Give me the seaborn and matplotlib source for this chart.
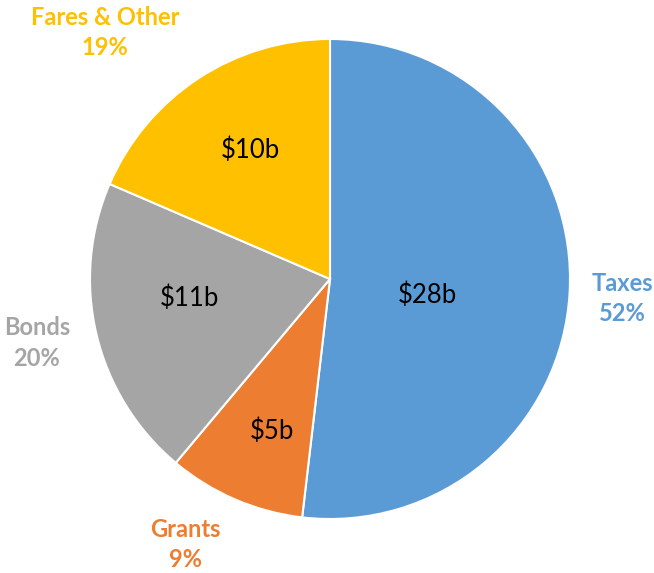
import numpy as np
import matplotlib.pyplot as plt
import seaborn as sns

# data (billions of dollars)
sources = ['Taxes', 'Grants', 'Bonds', 'Fares & Other']
amounts = [28, 5, 11, 10]
pct_labels = ['52%', '9%', '20%', '19%']
colors = ['#5B9BD5', '#ED7D31', '#A5A5A5', '#FFC000']

# label layout: (radius, angle shift in degrees) relative to wedge middle
inner_layout = [(0.41, -6), (0.68, 2.5), (0.59, -5.6), (0.63, -1.5)]
outer_layout = [(1.22, -0.5), (1.26, -5.2), (1.25, -1), (1.39, 9)]

sns.set_style('white')
plt.rcParams['font.family'] = ['Lato', 'DejaVu Sans']

fig = plt.figure(figsize=(6.54, 5.73), dpi=100)
# square axes so the pie centre sits at (330, 279) px with radius 240 px
ax = fig.add_axes([90 / 654, 54 / 573, 480 / 654, 480 / 573])

wedges, _ = ax.pie(
    amounts,
    colors=colors,
    startangle=90,
    counterclock=False,
    radius=1,
    wedgeprops=dict(edgecolor='white', linewidth=1.5),
)

for w, amt, name, pct, col, (ri, ai), (ro, ao) in zip(
        wedges, amounts, sources, pct_labels, colors, inner_layout, outer_layout):
    mid = (w.theta1 + w.theta2) / 2
    a = np.deg2rad(mid + ai)
    ax.text(ri * np.cos(a), ri * np.sin(a), f'${amt}b',
            ha='center', va='center', fontsize=18.5, color='black')
    a = np.deg2rad(mid + ao)
    ax.text(ro * np.cos(a), ro * np.sin(a), f'{name}\n{pct}',
            ha='center', va='center', fontsize=17, fontweight='bold',
            color=col, linespacing=1.4)

ax.set_xlim(-1, 1)
ax.set_ylim(-1, 1)
ax.set_aspect('equal')
ax.axis('off')

plt.savefig('out.png', dpi=100)
